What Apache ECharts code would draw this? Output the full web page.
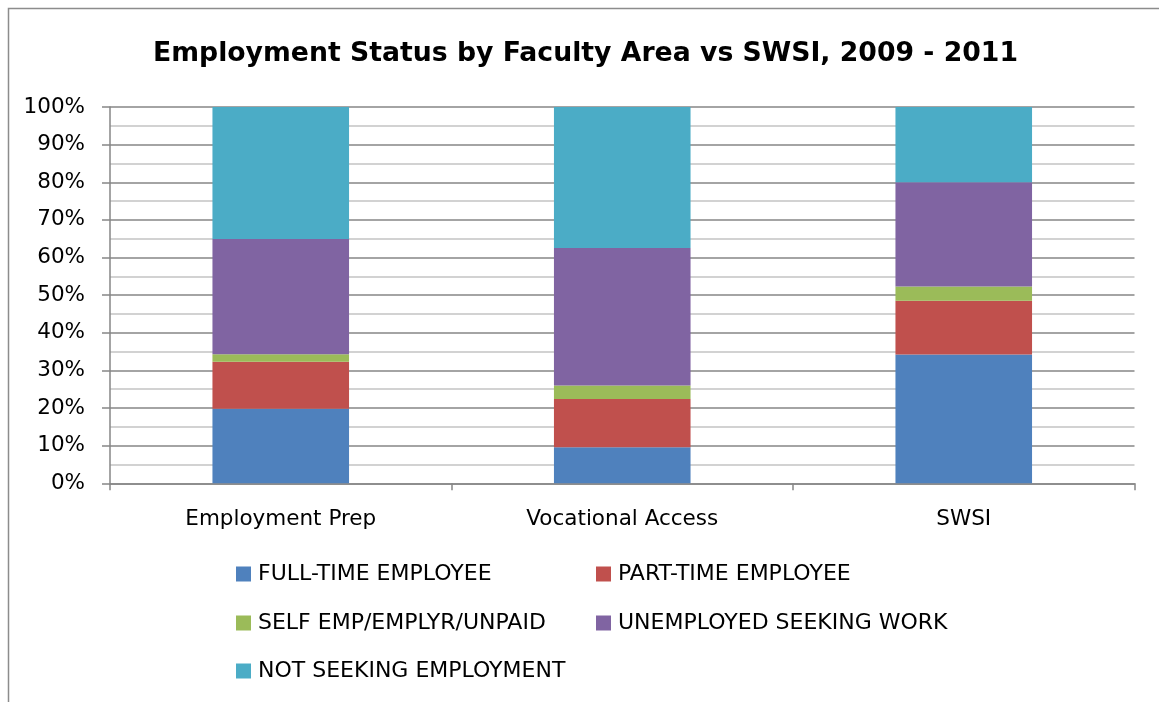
<!DOCTYPE html>
<html>
<head>
<meta charset="utf-8">
<script src="https://cdn.jsdelivr.net/npm/echarts@6/dist/echarts.min.js"></script>
<style>
html,body{margin:0;padding:0;background:#fff;}
#c{width:1159px;height:702px;}
</style>
</head>
<body>
<div id="c"></div>
<script>
const categories = ["Employment Prep", "Vocational Access", "SWSI"];
const seriesNames = ["FULL-TIME EMPLOYEE", "PART-TIME EMPLOYEE", "SELF EMP/EMPLYR/UNPAID", "UNEMPLOYED SEEKING WORK", "NOT SEEKING EMPLOYMENT"];
const fullTime = [19.8, 9.6, 34.2];
const partTime = [12.5, 12.8, 14.3];
const selfEmp = [2.0, 3.6, 3.8];
const unemployed = [30.6, 36.5, 27.7];
const notSeeking = [35.1, 37.5, 20.0];
const colors = ["#4F81BD", "#C0504D", "#9BBB59", "#8064A2", "#4BACC6"];

const FONT = "'DejaVu Sans', sans-serif";
const values = [fullTime, partTime, selfEmp, unemployed, notSeeking];

const legendPos = [
  {left: 236, top: 563},
  {left: 596, top: 563},
  {left: 236, top: 612},
  {left: 596, top: 612},
  {left: 236, top: 660}
];

const chart = echarts.init(document.getElementById('c'));
chart.setOption({
  animation: false,
  color: colors,
  title: {
    text: "Employment Status by Faculty Area vs SWSI, 2009 - 2011",
    left: 153,
    top: 41,
    padding: 0,
    textStyle: {fontFamily: FONT, fontSize: 26.7, fontWeight: 'bold', color: '#000'}
  },
  graphic: [{
    type: 'polyline',
    shape: {points: [[8.5, 702], [8.5, 8.5], [1159, 8.5]]},
    style: {stroke: '#8c8c8c', lineWidth: 1.5, fill: null},
    silent: true
  }],
  legend: seriesNames.map((n, i) => ({
    data: [n],
    left: legendPos[i].left,
    top: legendPos[i].top,
    padding: 0,
    icon: 'rect',
    itemWidth: 15,
    itemHeight: 15,
    textStyle: {fontFamily: FONT, fontSize: 22, color: '#000', padding: [0, 0, 0, 2]},
    selectedMode: false
  })),
  grid: {left: 110, right: 24.5, top: 107, bottom: 218.7, containLabel: false},
  xAxis: {
    type: 'category',
    data: categories,
    axisLine: {lineStyle: {color: '#868686', width: 1.5}},
    axisTick: {show: true, length: 7, alignWithLabel: false, lineStyle: {color: '#868686', width: 1.5}},
    axisLabel: {fontFamily: FONT, fontSize: 21.5, color: '#000', margin: 25}
  },
  yAxis: {
    type: 'value',
    min: 0,
    max: 100,
    interval: 10,
    axisLine: {show: true, lineStyle: {color: '#868686', width: 1.5}},
    axisTick: {show: true, length: 8, lineStyle: {color: '#868686', width: 1.5}},
    axisLabel: {fontFamily: FONT, fontSize: 21.5, color: '#000', margin: 25, formatter: '{value}%'},
    splitLine: {show: true, lineStyle: {color: '#868686', width: 1.5}},
    minorTick: {show: false, splitNumber: 2},
    minorSplitLine: {show: true, lineStyle: {color: '#c4c4c4', width: 1.5}}
  },
  series: seriesNames.map((n, i) => ({
    name: n,
    type: 'bar',
    stack: 'total',
    barWidth: '40%',
    data: values[i],
    itemStyle: {color: colors[i]}
  }))
});
</script>
</body>
</html>
